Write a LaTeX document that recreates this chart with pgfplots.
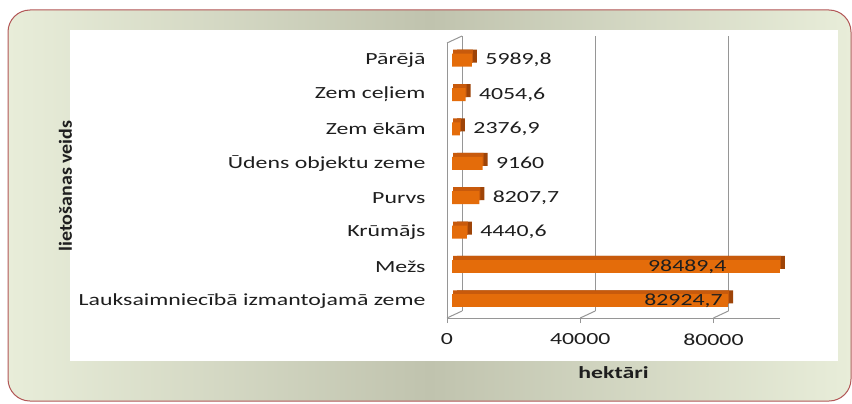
\documentclass[border=0pt]{standalone}
\usepackage{pgfplots}
\pgfplotsset{compat=1.18}
\usepackage{fontspec}
\setmainfont{Carlito}
\newfontfamily\wide[FakeStretch=1.4]{Carlito}
\newfontfamily\ylab[FakeStretch=1.08]{Carlito}
\definecolor{axisgray}{RGB}{150,150,150}
\definecolor{barorange}{RGB}{228,108,10}
\definecolor{bartop}{RGB}{200,90,12}
\definecolor{bardark}{RGB}{158,68,8}
\definecolor{txt}{RGB}{30,30,30}
\definecolor{frame}{RGB}{178,86,86}
\definecolor{bglight}{RGB}{232,237,217}
\definecolor{bgmid}{RGB}{192,195,174}
\begin{document}
\begin{tikzpicture}[x=1bp,y=1bp]
\useasboundingbox (0,0) rectangle (852,403);
\shade[draw=frame, line width=1bp, rounded corners=22bp, left color=bglight, right color=bglight, middle color=bgmid] (8,2) rectangle (851,393);
\fill[white] (70,42) rectangle (838,373);
\begin{axis}[
  at={(447bp,85bp)}, anchor=south west,
  scale only axis, width=333bp, height=275bp,
  xmin=0, xmax=100000, ymin=-0.5, ymax=7.5,
  axis lines*=left,
  axis line style={draw=axisgray, line width=1bp},
  every tick/.style={draw=axisgray, line width=1bp},
  tick align=outside,
  major tick length=5bp,
  minor tick length=7bp,
  xtick={0,40000,80000},
  scaled x ticks=false,
  xticklabel style={font=\wide\fontsize{17bp}{20bp}\selectfont, text=txt, yshift=-7bp},
  /pgf/number format/assume math mode=true,
  /pgf/number format/1000 sep={},
  ytick={0,...,7},
  ytick style={draw=none},
  minor ytick={-0.5,0.5,1.5,2.5,3.5,4.5,5.5,6.5,7.5},
  yticklabels={Lauksaimniecībā izmantojamā zeme,Mežs,Krūmājs,Purvs,Ūdens objektu zeme,Zem ēkām,Zem ceļiem,Pārējā},
  yticklabel style={font=\wide\fontsize{17bp}{20bp}\selectfont, text=txt, xshift=-13bp},
  xmajorgrids,
  major x grid style={draw=axisgray, line width=1bp, xshift=15bp, yshift=7bp},
  xlabel={hektāri},
  xlabel style={font=\wide\bfseries\fontsize{17bp}{20bp}\selectfont, text=txt, at={(axis description cs:0.5,0)}, anchor=center, yshift=-55bp},
  ylabel={lietošanas veids},
  ylabel style={font=\ylab\bfseries\fontsize{18.5bp}{22bp}\selectfont, text=txt, at={(axis description cs:-1.1456,0.48)}, anchor=center},
  xbar, bar width=13bp,
  clip=false,
  point meta=x,
  nodes near coords={\pgfmathprintnumber[fixed,precision=1,use comma,1000 sep={},assume math mode=true]{\pgfplotspointmeta}},
  nodes near coords style={font=\wide\fontsize{17bp}{20bp}\selectfont, text=txt},
]
% side faces
\addplot[fill=bardark, draw=none, bar shift=0pt, xshift=10bp, yshift=4bp, nodes near coords={}] coordinates {
  (82924.7,0) (98489.4,1) (4440.6,2) (8207.7,3) (9160,4) (2376.9,5) (4054.6,6) (5989.8,7)};
% top faces
\addplot[fill=bartop, draw=none, bar shift=0pt, xshift=6bp, yshift=4bp, nodes near coords={}] coordinates {
  (82924.7,0) (98489.4,1) (4440.6,2) (8207.7,3) (9160,4) (2376.9,5) (4054.6,6) (5989.8,7)};
% front faces - small values, labels outside
\addplot[fill=barorange, draw=none, bar shift=0pt, xshift=5bp, nodes near coords style={anchor=west, xshift=10bp}] coordinates {
  (4440.6,2) (8207.7,3) (9160,4) (2376.9,5) (4054.6,6) (5989.8,7)};
% Mezs
\addplot[fill=barorange, draw=none, bar shift=0pt, xshift=5bp, nodes near coords style={anchor=east, xshift=-50bp}] coordinates {
  (98489.4,1)};
% Lauksaimnieciba
\addplot[fill=barorange, draw=none, bar shift=0pt, xshift=5bp, nodes near coords style={anchor=east, xshift=-2bp}] coordinates {
  (82924.7,0)};
\draw[axisgray, line width=1bp] (axis cs:0,7.5) -- ++(15bp,7bp);
\draw[axisgray, line width=1bp] (axis cs:0,-0.5) -- ++(15bp,7bp);
\draw[axisgray, line width=1bp] (axis cs:40000,-0.5) -- ++(15bp,7bp);
\draw[axisgray, line width=1bp] (axis cs:80000,-0.5) -- ++(15bp,7bp);
\end{axis}
\end{tikzpicture}
\end{document}
